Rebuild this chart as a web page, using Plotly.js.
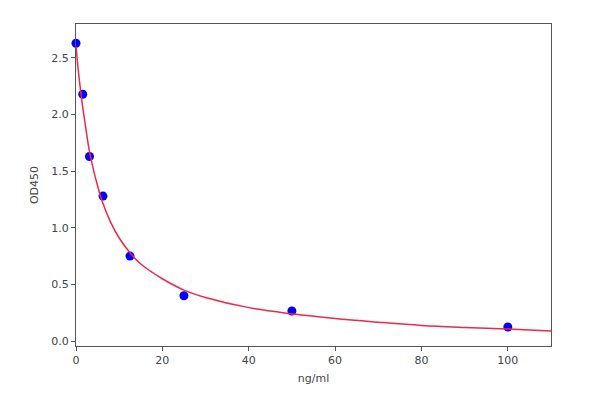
<!DOCTYPE html>
<html>
<head>
<meta charset="utf-8">
<script src="https://cdn.plot.ly/plotly-3.0.1.min.js"></script>
<style>html,body{margin:0;padding:0;background:#fff;}#chart{width:600px;height:398px;}</style>
</head>
<body>
<div id="chart"></div>
<script>
// Standard points (concentration ng/ml vs OD450)
const concentration = [0, 1.5625, 3.125, 6.25, 12.5, 25, 50, 100];
const od450 = [2.63, 2.18, 1.63, 1.28, 0.75, 0.40, 0.265, 0.124];

// Fitted curve, values
const curveX = [0, 0.5, 1, 1.5, 2, 3, 4, 5, 6, 8, 10, 12.5, 15, 20, 25, 30, 40, 50, 60, 70, 80, 90, 100, 110];
const curveY = [2.60, 2.40, 2.23, 2.08, 1.95, 1.70, 1.52, 1.37, 1.24, 1.05, 0.91, 0.78, 0.68, 0.55, 0.45, 0.385, 0.295, 0.24, 0.198, 0.166, 0.138, 0.12, 0.106, 0.088];

const xTicks = [0, 20, 40, 60, 80, 100];
const yTicks = [0.0, 0.5, 1.0, 1.5, 2.0, 2.5];

const traces = [
  {x: concentration, y: od450, type: 'scatter', mode: 'markers',
   marker: {color: '#0000ff', size: 9}, cliponaxis: false, hoverinfo: 'skip'},
  {x: curveX, y: curveY, type: 'scatter', mode: 'lines',
   line: {color: 'rgb(240,40,70)', width: 1.5, shape: 'spline', smoothing: 1}, hoverinfo: 'skip'}
];

const axisCommon = {
  showgrid: false, zeroline: false, showline: true, mirror: true,
  linecolor: '#555', linewidth: 1, ticks: 'outside', ticklen: 4, tickcolor: '#555',
  tickfont: {family: 'DejaVu Sans', size: 11, color: '#444'}
};

const layout = {
  width: 600, height: 398,
  margin: {l: 76, r: 49, t: 24, b: 52},
  paper_bgcolor: '#fff', plot_bgcolor: '#fff',
  showlegend: false,
  font: {family: 'DejaVu Sans', color: '#444'},
  xaxis: Object.assign({}, axisCommon, {
    range: [0, 110], tickvals: xTicks, ticktext: xTicks.map(String),
    title: {text: 'ng/ml', font: {family: 'DejaVu Sans', size: 11, color: '#444'}, standoff: 8}
  }),
  yaxis: Object.assign({}, axisCommon, {
    range: [-0.044, 2.80], tickvals: yTicks, ticktext: yTicks.map(v => v.toFixed(1)),
    title: {text: 'OD450', font: {family: 'DejaVu Sans', size: 11, color: '#444'}, standoff: 10}
  })
};

Plotly.newPlot('chart', traces, layout, {staticPlot: true, displayModeBar: false});
</script>
</body>
</html>
